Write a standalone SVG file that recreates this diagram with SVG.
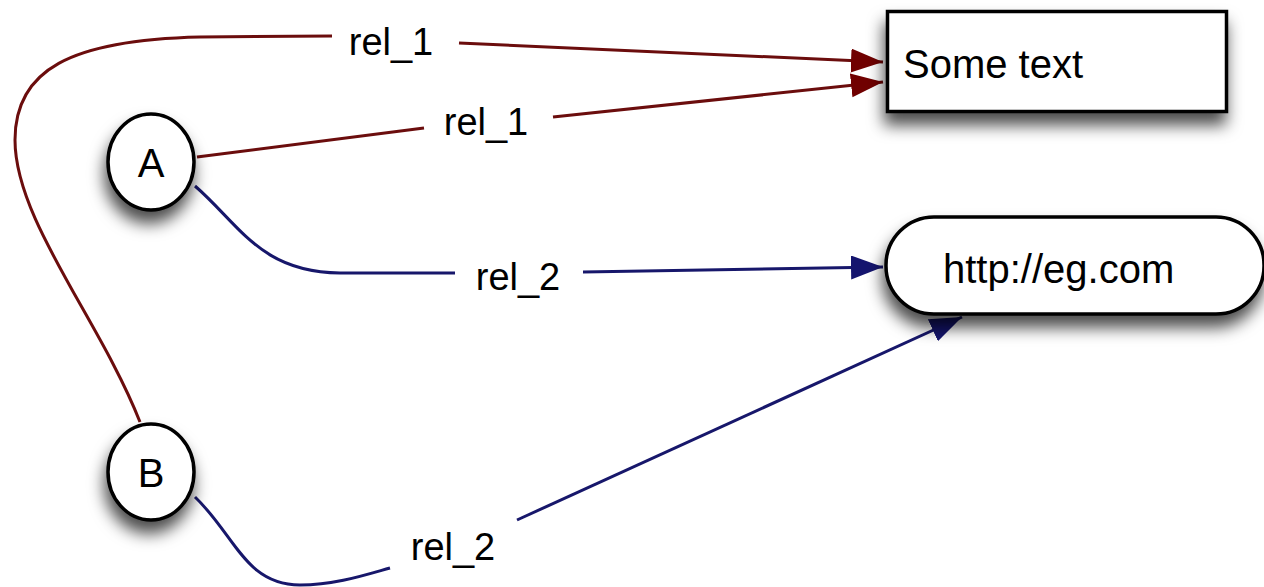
<svg xmlns="http://www.w3.org/2000/svg" width="1264" height="587" viewBox="0 0 1264 587">
  <defs>
    <style>
      .node { fill: #ffffff; stroke: #000000; stroke-width: 3.5; filter: url(#shadow); }
      .ntext { font-family: "Liberation Sans", Arial, sans-serif; font-size: 40px; fill: #000000; }
      .ltext { font-family: "Liberation Sans", Arial, sans-serif; font-size: 38px; fill: #000000; text-anchor: middle; }
      .red { fill: none; stroke: #6b0d0d; stroke-width: 3; }
      .blue { fill: none; stroke: #17176b; stroke-width: 3; }
    </style>
    <filter id="shadow" x="-30%" y="-30%" width="160%" height="170%">
      <feDropShadow dx="-2" dy="12" stdDeviation="8" flood-color="#000000" flood-opacity="0.7"/>
    </filter>
    <marker id="arrRed" markerUnits="userSpaceOnUse" markerWidth="36" markerHeight="26" refX="32" refY="12" orient="auto">
      <path d="M0,0 L32,12 L0,24 z" fill="#700000"/>
    </marker>
    <marker id="arrBlue" markerUnits="userSpaceOnUse" markerWidth="36" markerHeight="26" refX="32" refY="12" orient="auto">
      <path d="M0,0 L32,12 L0,24 z" fill="#14146e"/>
    </marker>
  </defs>
  <rect width="1264" height="587" fill="#ffffff"/>

  <g id="connectors">
    <!-- B -> Some text (rel_1) -->
    <path class="red" d="M140,422 C100,320 15,220 15,140 C15,70 70,40 200,37 L332,36"/>
    <path class="red" d="M459,43 L883,62" marker-end="url(#arrRed)"/>
    <!-- A -> Some text (rel_1) -->
    <path class="red" d="M197,157 L424,128"/>
    <path class="red" d="M553,117 L883,82" marker-end="url(#arrRed)"/>
    <!-- A -> http://eg.com (rel_2) -->
    <path class="blue" d="M195,186 C240,225 260,272 340,273 L455,273"/>
    <path class="blue" d="M583,272 L883,267" marker-end="url(#arrBlue)"/>
    <!-- B -> http://eg.com (rel_2) -->
    <path class="blue" d="M195,497 C235,535 245,585 300,585 C335,585 365,575 390,568"/>
    <path class="blue" d="M517,520 L962,317" marker-end="url(#arrBlue)"/>
    <text class="ltext" x="391" y="55">rel_1</text>
    <text class="ltext" x="486" y="135">rel_1</text>
    <text class="ltext" x="518" y="290">rel_2</text>
    <text class="ltext" x="453" y="560">rel_2</text>
  </g>

  <g id="node-sometext">
    <rect class="node" x="887.5" y="11.5" width="339" height="100"/>
    <text class="ntext" x="903" y="78">Some text</text>
  </g>

  <g id="node-egcom">
    <rect class="node" x="886" y="217" width="378" height="97" rx="48" ry="48"/>
    <text class="ntext" x="943" y="283">http://eg.com</text>
  </g>

  <g id="node-A">
    <ellipse class="node" cx="151" cy="162" rx="43" ry="48"/>
    <text class="ntext" x="151" y="177" text-anchor="middle">A</text>
  </g>

  <g id="node-B">
    <ellipse class="node" cx="151" cy="472" rx="43" ry="48"/>
    <text class="ntext" x="151" y="487" text-anchor="middle">B</text>
  </g>
</svg>
